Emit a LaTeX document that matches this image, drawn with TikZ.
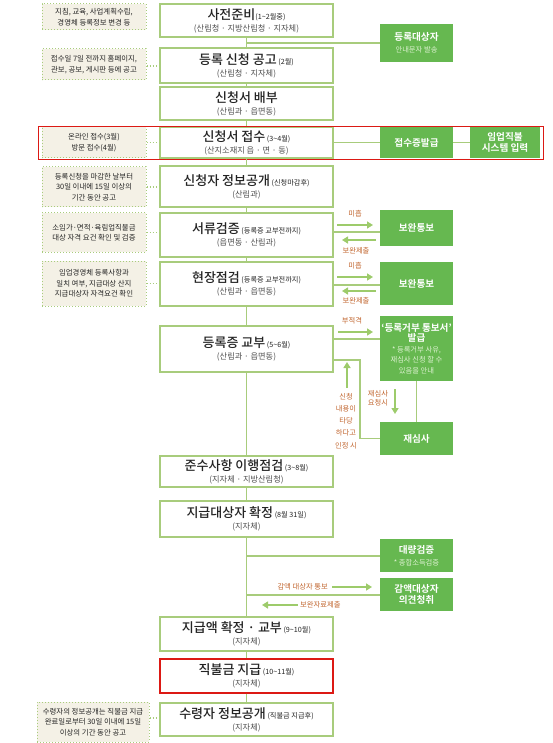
\documentclass[tikz,border=0pt]{standalone}
\usepackage{fontspec}
\setmainfont{Noto Sans CJK KR}[BoldFont={Noto Sans CJK KR Medium}]
\newfontfamily\krbold{Noto Sans CJK KR Bold}
\usetikzlibrary{arrows.meta,calc}
\definecolor{gline}{RGB}{168,204,124}
\definecolor{gfill}{RGB}{102,184,80}
\definecolor{beige}{RGB}{244,241,230}
\definecolor{brn}{RGB}{192,100,45}
\definecolor{garrow}{RGB}{157,203,107}
\definecolor{gsub}{RGB}{222,242,210}
\definecolor{redline}{RGB}{220,25,20}
\definecolor{txtdark}{RGB}{35,35,35}
\definecolor{txtgray}{RGB}{80,80,80}
\newcommand\tld{\char"7E\relax}
\newcommand\ttl[1]{{\fontsize{13}{15}\selectfont\bfseries #1}}
\newcommand\sml[1]{{\fontsize{7.2}{9}\selectfont #1}}
\newcommand\org[1]{{\fontsize{8.2}{11}\selectfont\color{txtgray}#1}}
\newcommand\gt[1]{{\fontsize{9.6}{12}\selectfont\krbold #1}}
\newcommand\gs[1]{{\fontsize{7.3}{9.5}\selectfont\color{gsub}#1}}
\tikzset{
  mainbox/.style={draw=gline, line width=1.3pt, fill=white, minimum width=173pt, align=center, inner sep=1pt, text=txtdark},
  note/.style={draw=gline, dotted, line width=1pt, fill=beige, minimum width=104pt, align=center, inner sep=1pt, text=txtdark, font=\fontsize{7.4}{10.5}\selectfont},
  gbox/.style={fill=gfill, draw=none, minimum width=73pt, align=center, inner sep=1pt, text=white},
  conn/.style={gline, line width=1.3pt},
  dconn/.style={gline, dotted, line width=1.1pt},
  garr/.style={garrow, line width=1.8pt, -{Triangle[length=6pt,width=7pt]}},
  lbl/.style={text=brn, align=center, inner sep=0pt, font=\fontsize{7.3}{9}\selectfont}
}
\begin{document}
\begin{tikzpicture}[x=1pt,y=-1pt]
\path[use as bounding box] (0,0) rectangle (552,743);

% main column
\node[mainbox, minimum height=33pt] (b1) at (246.5,20.5) {\ttl{사전준비}\sml{(1\tld2월중)}\\\org{(산림청 · 지방산림청 · 지자체)}};
\node[mainbox, minimum height=35pt] (b2) at (246.5,65.5) {\ttl{등록 신청 공고}\sml{ (2월)}\\\org{(산림청 · 지자체)}};
\node[mainbox, minimum height=33pt] (b3) at (246.5,103.5) {\ttl{신청서 배부}\\\org{(산림과 · 읍면동)}};
\node[mainbox, minimum height=31pt] (b4) at (246.5,142.5) {\ttl{신청서 접수}\sml{ (3\tld4월)}\\\org{(산지소재지 읍 · 면 · 동)}};
\node[mainbox, minimum height=41pt] (b5) at (246.5,186.5) {\ttl{신청자 정보공개}\sml{ (신청마감후)}\\\org{(산림과)}};
\node[mainbox, minimum height=44pt] (b6) at (246.5,235) {\ttl{서류검증}\sml{ (등록증 교부전까지)}\\\org{(읍면동 · 산림과)}};
\node[mainbox, minimum height=44pt] (b7) at (246.5,284) {\ttl{현장점검}\sml{ (등록증 교부전까지)}\\\org{(산림과 · 읍면동)}};
\node[mainbox, minimum height=46pt] (b8) at (246.5,349) {\ttl{등록증 교부}\sml{ (5\tld6월)}\\\org{(산림과 · 읍면동)}};
\node[mainbox, minimum height=31pt] (b9) at (246.5,471.5) {\ttl{준수사항 이행점검}\sml{ (3\tld8월)}\\\org{(지자체 · 지방산림청)}};
\node[mainbox, minimum height=36pt] (b10) at (246.5,519) {\ttl{지급대상자 확정}\sml{ (8월 31일)}\\\org{(지자체)}};
\node[mainbox, minimum height=34pt] (b11) at (246.5,634) {\ttl{지급액 확정 · 교부}\sml{ (9\tld10월)}\\\org{(지자체)}};
\node[mainbox, draw=redline, minimum height=34pt] (b12) at (246.5,676) {\ttl{직불금 지급}\sml{ (10\tld11월)}\\\org{(지자체)}};
\node[mainbox, minimum height=33pt] (b13) at (246.5,719.5) {\ttl{수령자 정보공개}\sml{ (직불금 지급후)}\\\org{(지자체)}};

% notes
\node[note, minimum height=26pt] (a1) at (94,17) {지침, 교육, 사업계획수립,\\경영체 등록정보 변경 등};
\node[note, minimum height=31pt] (a2) at (94,64.5) {접수일 7일 전까지 홈페이지,\\관보, 공보, 게시판 등에 공고};
\node[note, minimum height=31pt] (a3) at (94,142.5) {온라인 접수(3월)\\방문 접수(4월)};
\node[note, minimum height=40pt] (a4) at (94,187) {등록신청을 마감한 날부터\\30일 이내에 15일 이상의\\기간 동안 공고};
\node[note, minimum height=39pt] (a5) at (94,232.5) {소임가·면적·육림업직불금\\대상 자격 요건 확인 및 검증};
\node[note, minimum height=45pt] (a6) at (94,283.5) {임업경영체 등록사항과\\일치 여부, 지급대상 산지\\지급대상자 자격요건 확인};
\node[note, minimum width=112pt, minimum height=40pt] (a7) at (93,722) {수령자의 정보공개는 직불금 지급\\완료일로부터 30일 이내에 15일\\이상의 기간 동안 공고};

% green boxes
\node[gbox, minimum height=38pt] (g1) at (416.5,43) {\gt{등록대상자}\\\gs{안내문자 발송}};
\node[gbox, minimum height=31pt] (g2) at (416.5,142.5) {\gt{접수증발급}};
\node[gbox, minimum width=70pt, minimum height=31pt] (g3) at (505,142.5) {\gt{임업직불}\\[-1pt]\gt{시스템 입력}};
\node[gbox, minimum height=36pt] (g4) at (416.5,228) {\gt{보완통보}};
\node[gbox, minimum height=43pt] (g5) at (416.5,283.5) {\gt{보완통보}};
\node[gbox, minimum height=65pt] (g6) at (416.5,348.5) {\gt{‘등록거부 통보서’}\\[-2pt]\gt{발급}\\[-1pt]\gs{* 등록거부 사유,}\\[-1.5pt]\gs{재심사 신청 할 수}\\[-1.5pt]\gs{있음을 안내}};
\node[gbox, minimum height=33pt] (g7) at (416.5,438.5) {\gt{재심사}};
\node[gbox, minimum height=33pt] (g8) at (416.5,555.5) {\gt{대량검증}\\\gs{* 종합소득검증}};
\node[gbox, minimum height=33pt] (g9) at (416.5,594.5) {\gt{감액대상자}\\[-1pt]\gt{의견청취}};

% red highlight
\draw[redline, line width=1pt] (38,126.5) rectangle (543,159.5);

% center line
\draw[conn] (b1) -- (b2);
\draw[conn] (b2) -- (b3);
\draw[conn] (b3) -- (b4);
\draw[conn] (b4) -- (b5);
\draw[conn] (b5) -- (b6);
\draw[conn] (b6) -- (b7);
\draw[conn] (b7) -- (b8);
\draw[conn] (b8) -- (b9);
\draw[conn] (b9) -- (b10);
\draw[conn] (b10) -- (b11);
\draw[conn] (b11) -- (b12);
\draw[conn] (b12) -- (b13);

% branches
\coordinate (j1) at (246.5,43);
\draw[conn] (j1) -- (g1);
\draw[conn] (b4) -- (g2);
\draw[conn] (g2) -- (g3);
\coordinate (k6) at (333,232);
\draw[conn] (k6) -- (k6 -| g4.west);
\coordinate (k7) at (333,285);
\draw[conn] (k7) -- (k7 -| g5.west);
\coordinate (k8a) at (333,339);
\draw[conn] (k8a) -- (k8a -| g6.west);
\coordinate (k8b) at (333,360);
\draw[conn] (k8b) -- (360,360) |- (g7.west);
\draw[conn] (g6) -- (g7);
\coordinate (j10a) at (246.5,556);
\draw[conn] (j10a) -- (j10a -| g8.west);
\coordinate (j10b) at (246.5,595);
\draw[conn] (j10b) -- (j10b -| g9.west);

% dotted note connectors
\draw[dconn] (a2.east |- 0,66) -- (b2.west |- 0,66);
\draw[dconn] (a3) -- (b4);
\draw[dconn] (a4) -- (a4 -| b5.west);
\draw[dconn] (a5) -- (a5 -| b6.west);
\draw[dconn] (a6) -- (a6 -| b7.west);
\draw[dconn] (a7.east |- 0,718) -- (b13.west |- 0,718);

% arrows & labels
\coordinate (r1s) at (337,225); \coordinate (r1e) at (373,225);
\draw[garr] (r1s) -- (r1e);
\node[lbl] (l1) at (355,214) {미흡};
\coordinate (r2s) at (376,240); \coordinate (r2e) at (342,240);
\draw[garr] (r2s) -- (r2e);
\node[lbl] (l2) at (356,251) {보완제출};

\coordinate (r3s) at (337,277); \coordinate (r3e) at (373,277);
\draw[garr] (r3s) -- (r3e);
\node[lbl] (l3) at (355,266) {미흡};
\coordinate (r4s) at (376,291); \coordinate (r4e) at (342,291);
\draw[garr] (r4s) -- (r4e);
\node[lbl] (l4) at (356,301) {보완제출};

\coordinate (r5s) at (338,332); \coordinate (r5e) at (373,332);
\draw[garr] (r5s) -- (r5e);
\node[lbl] (l5) at (352,321) {부적격};

\coordinate (r6s) at (347,388); \coordinate (r6e) at (347,362);
\draw[garr] (r6s) -- (r6e);
\node[lbl, font=\fontsize{7.3}{12.2}\selectfont] (l6) at (346,421) {신청\\내용이\\타당\\하다고\\인정 시};
\coordinate (r7s) at (395,389); \coordinate (r7e) at (395,414);
\draw[garr] (r7s) -- (r7e);
\node[lbl] (l7) at (378,398.5) {재심사\\요청시};

\coordinate (r8s) at (332,587); \coordinate (r8e) at (372,587);
\draw[garr] (r8s) -- (r8e);
\node[lbl, anchor=east] (l8) at (328,587) {감액 대상자 통보};
\coordinate (r9s) at (298,605); \coordinate (r9e) at (262,605);
\draw[garr] (r9s) -- (r9e);
\node[lbl, anchor=west] (l9) at (300,605) {보완자료제출};
\end{tikzpicture}
\end{document}
